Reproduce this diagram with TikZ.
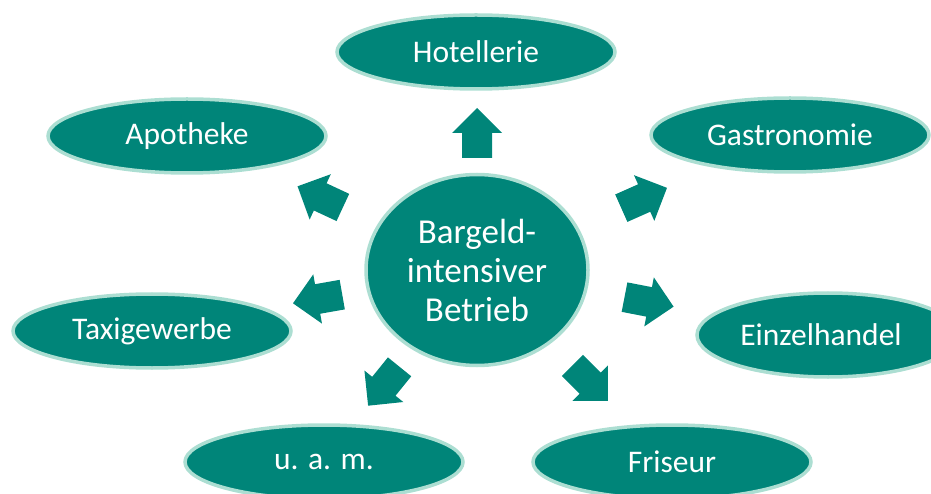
\documentclass[tikz,border=0pt]{standalone}
\usepackage{fontspec}
\setmainfont{Carlito}
\usetikzlibrary{shapes.geometric,calc}
\definecolor{petrol}{RGB}{0,133,121}
\definecolor{mint}{RGB}{172,222,210}
\tikzset{
  oval/.style={ellipse,draw=mint,line width=3.5pt,fill=petrol,text=white,
    minimum width=278pt,minimum height=74pt,inner sep=0pt,
    font=\fontsize{31.5}{36}\selectfont},
  blockarrow/.pic={\fill[petrol](-25,-15)--(0,-15)--(0,-25)--(25,0)--(0,25)--(0,15)--(-25,15)--cycle;}
}
\begin{document}
\begin{tikzpicture}[x=1pt,y=1pt]
\useasboundingbox(0,0)rectangle(931,493);
%centre
\node[oval,minimum width=222pt,minimum height=191pt,align=center,
  font=\fontsize{35}{39}\selectfont](bargeld)at(477,223){Bargeld-\\intensiver\\Betrieb};
%branches
\node[oval](hotel)at(476,441){Hotellerie};
\node[oval](apotheke)at(187,357){Apotheke};
\node[oval](gastro)at(790,358){Gastronomie};
\node[oval](taxi)at(152,162){Taxigewerbe};
\node[oval,minimum width=262pt,minimum height=84pt](einzel)at(828,158){\hspace*{-14pt}Einzelhandel};
\node[oval](uam)at(324,31){u. a. m.};
\node[oval](friseur)at(672,31){Friseur};
%arrows
\pic[rotate=90]at($(bargeld)+(90:137)$){blockarrow};
\pic[rotate=155]at($(bargeld)+(155:173)$){blockarrow};
\pic[rotate=24]at($(bargeld)+(23.3:182)$){blockarrow};
\pic[rotate=190]at($(bargeld)+(190.3:162)$){blockarrow};
\pic[rotate=-11]at($(bargeld)+(-10.5:175)$){blockarrow};
\pic[rotate=231]at($(bargeld)+(231.3:149)$){blockarrow};
\pic[rotate=-45]at($(bargeld)+(-45:160)$){blockarrow};
\end{tikzpicture}
\end{document}
